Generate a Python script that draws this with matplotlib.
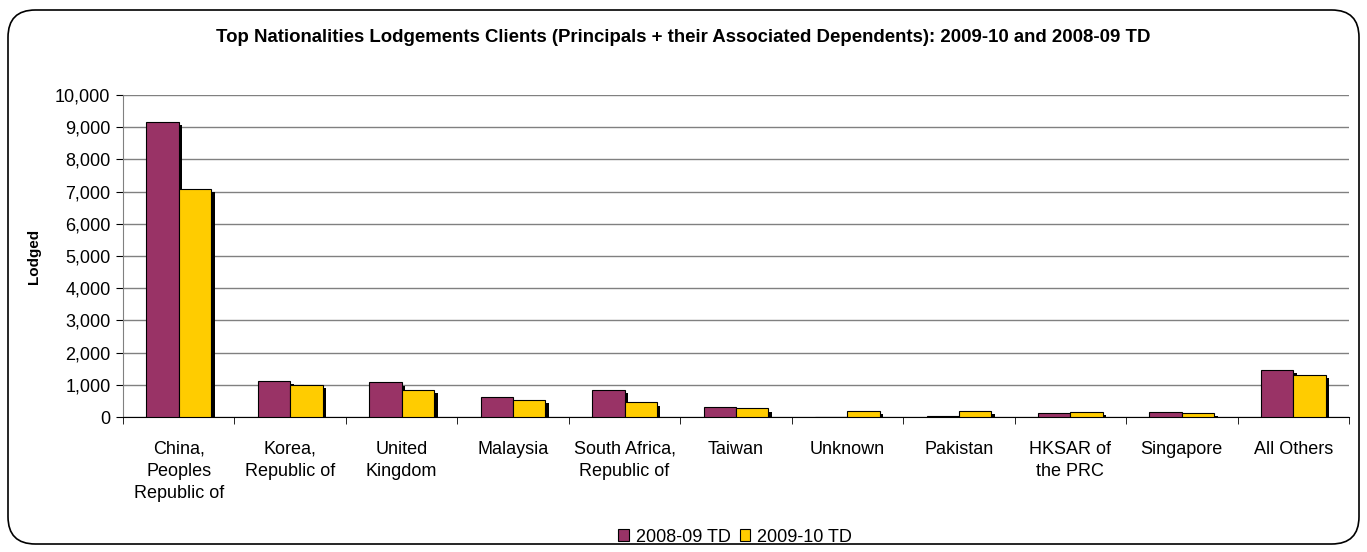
import numpy as np
import matplotlib.pyplot as plt
from matplotlib import patheffects
from matplotlib.patches import FancyBboxPatch, Patch
from matplotlib.ticker import FuncFormatter, MultipleLocator, FixedLocator, NullFormatter

plt.rcParams['font.family'] = ['Liberation Sans', 'DejaVu Sans']

# Data
categories = ['China,\nPeoples\nRepublic of', 'Korea,\nRepublic of', 'United\nKingdom',
              'Malaysia', 'South Africa,\nRepublic of', 'Taiwan', 'Unknown', 'Pakistan',
              'HKSAR of\nthe PRC', 'Singapore', 'All Others']
td_0809 = [9160, 1120, 1080, 610, 850, 310, 0, 40, 130, 160, 1460]
td_1010 = [7080, 1000, 840, 540, 460, 270, 200, 200, 160, 120, 1300]
series_names = ['2008-09 TD', '2009-10 TD']
colors = ['#993366', '#FFCC00']

fig = plt.figure(figsize=(13.67, 5.52), dpi=100)
ax = fig.add_axes([123 / 1367, 1 - 417 / 552, (1349 - 123) / 1367, (417 - 95) / 552])

x = np.arange(len(categories))
w = 0.29
# black drop shadow on the bars, like the Excel chart
shadow = [patheffects.SimplePatchShadow(offset=(2.6, -2.4), shadow_rgbFace='black', alpha=1.0),
          patheffects.Normal()]
for vals, off, c in [(td_0809, -w / 2, colors[0]), (td_1010, w / 2, colors[1])]:
    bars = ax.bar(x + off, vals, width=w, color=c, edgecolor='black', linewidth=0.8, zorder=3)
    for b in bars:
        if b.get_height() > 0:
            b.set_path_effects(shadow)

ax.set_xlim(-0.5, len(categories) - 0.5)
ax.set_ylim(0, 10000)
ax.yaxis.set_major_locator(MultipleLocator(1000))
ax.yaxis.set_major_formatter(FuncFormatter(lambda v, p: f'{int(v):,}'))
ax.grid(axis='y', color='#808080', linewidth=1.0, zorder=0)

ax.set_xticks(x)
ax.set_xticklabels(categories, fontsize=13, linespacing=1.4, va='top')
ax.tick_params(axis='x', which='major', length=0, pad=17)
ax.xaxis.set_minor_locator(FixedLocator(np.arange(-0.5, len(categories), 1)))
ax.xaxis.set_minor_formatter(NullFormatter())
ax.tick_params(axis='x', which='minor', length=5, color='black')
ax.tick_params(axis='y', labelsize=13, length=5, pad=4)

for s in ['top', 'right']:
    ax.spines[s].set_visible(False)
ax.spines['left'].set_color('#808080')
ax.spines['bottom'].set_color('black')

ax.set_ylabel('Lodged', fontsize=11, fontweight='bold', labelpad=10)
fig.text(0.5, 1 - 38 / 552, 'Top Nationalities Lodgements Clients (Principals + their Associated Dependents): 2009-10 and 2008-09 TD',
         ha='center', va='center', fontsize=13.4, fontweight='bold')

handles = [Patch(facecolor=c, edgecolor='black', linewidth=0.8) for c in colors]
fig.legend(handles, series_names, loc='center', bbox_to_anchor=(735 / 1367, 1 - 537 / 552), ncol=2,
           frameon=False, fontsize=13, handlelength=0.6, handleheight=0.6, handletextpad=0.35,
           columnspacing=0.5)

border = FancyBboxPatch((8 / 1367, 8 / 552), 1 - 16 / 1367, 1 - 18 / 552,
                        boxstyle='round,pad=0,rounding_size=0.02', transform=fig.transFigure,
                        facecolor='none', edgecolor='black', linewidth=1.2, mutation_aspect=1367 / 552)
fig.patches.append(border)

fig.savefig('out.png', dpi=100)
